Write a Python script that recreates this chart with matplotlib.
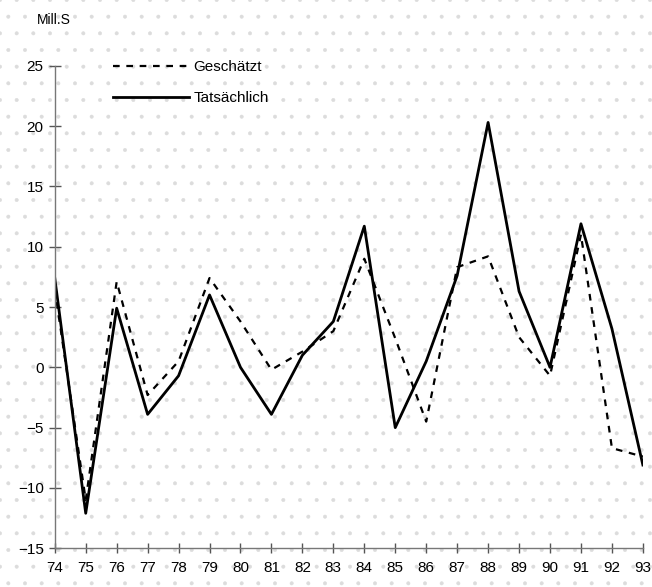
"""
Geschätzt vs. Tatsächlich, Mill. S, 1974-1993
"""
import matplotlib.pyplot as plt
import matplotlib.patches as mpatches

# Data
years = list(range(74, 94))
year_labels = [str(y) for y in years]
geschaetzt = [6.5, -11.0, 7.1, -2.3, 0.5, 7.4, 3.8, -0.2, 1.3, 3.0, 9.0, 2.4,
              -4.5, 8.3, 9.2, 2.5, -0.7, 11.0, -6.7, -7.4]
tatsaechlich = [7.4, -12.1, 4.9, -3.9, -0.7, 6.0, 0.0, -3.9, 1.0, 3.8, 11.7, -5.0,
                0.5, 7.6, 20.3, 6.3, 0.0, 11.9, 3.2, -8.1]
y_ticks = [-15, -10, -5, 0, 5, 10, 15, 20, 25]

plt.rcParams['font.family'] = ['Liberation Sans', 'DejaVu Sans']
plt.rcParams['hatch.linewidth'] = 0.4

fig = plt.figure(figsize=(6.52, 5.87), dpi=100)
fig.patch.set_facecolor('white')

# faint stippled background like the scanned original
bg = mpatches.Rectangle((0, 0), 1, 1, transform=fig.transFigure, facecolor='white',
                        edgecolor='#dcdcdc', hatch='.', linewidth=0, zorder=-10)
fig.patches.append(bg)

ax = fig.add_axes([0.084, 0.066, 0.902, 0.822])
ax.patch.set_alpha(0)

ax.plot(years, geschaetzt, color='black', linewidth=1.6, linestyle=(0, (3, 3)),
        label='Geschätzt')
ax.plot(years, tatsaechlich, color='black', linewidth=2.0, label='Tatsächlich')

ax.set_xlim(74, 93)
ax.set_ylim(-15, 25)
ax.set_xticks(years)
ax.set_xticklabels(year_labels)
ax.set_yticks(y_ticks)

for side in ['top', 'right']:
    ax.spines[side].set_visible(False)
for side in ['left', 'bottom']:
    ax.spines[side].set_color('#777777')
    ax.spines[side].set_linewidth(1.0)

ax.tick_params(axis='y', direction='inout', length=8, width=1, color='#555555',
               labelsize=11, pad=4)
ax.tick_params(axis='x', direction='inout', length=7, width=1, color='#555555',
               labelsize=11, pad=6)

fig.text(0.056, 0.966, 'Mill.S', fontsize=10, ha='left', va='center')

leg = ax.legend(loc='upper left', bbox_to_anchor=(0.075, 1.04), frameon=False,
                handlelength=5.0, handletextpad=0.3, fontsize=11, labelspacing=1.1)

plt.savefig('out.png', dpi=100, facecolor='white')
plt.close()
